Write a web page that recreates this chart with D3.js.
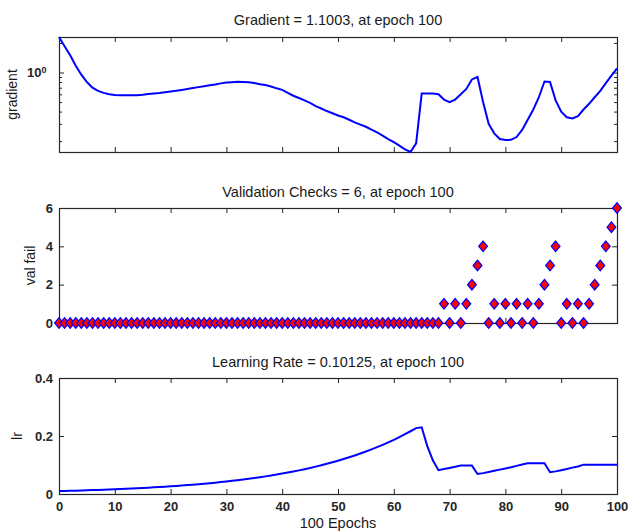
<!DOCTYPE html>
<html>
<head>
<meta charset="utf-8">
<script src="https://cdn.jsdelivr.net/npm/d3@7/dist/d3.min.js"></script>
<style>
    body { margin: 0; background: #fff; }
    svg { font-family: Arial, "Liberation Sans", sans-serif; }
    .tick text { font-size: 13px; fill: #262626; font-weight: bold; }
    .tick line { stroke: #262626; }
</style>
</head>
<body>
<svg id="chart" width="630" height="531"></svg>
<script>
'use strict';

// epochs 0..100
var epochs = d3.range(0, 101);

// gradient (log scale)
var gradientValues = [
    2.30, 1.85, 1.50, 1.17, 0.95, 0.80, 0.70, 0.65, 0.62, 0.60,
    0.59, 0.585, 0.585, 0.585, 0.588, 0.595, 0.605, 0.612, 0.62, 0.63,
    0.64, 0.652, 0.665, 0.68, 0.695, 0.71, 0.725, 0.74, 0.755, 0.775,
    0.79, 0.798, 0.803, 0.802, 0.795, 0.78, 0.76, 0.745, 0.72, 0.69,
    0.665, 0.62, 0.58, 0.55, 0.52, 0.49, 0.455, 0.43, 0.405, 0.385,
    0.365, 0.35, 0.33, 0.31, 0.295, 0.28, 0.262, 0.245, 0.228, 0.21,
    0.195, 0.18, 0.165, 0.155, 0.19, 0.61, 0.61, 0.61, 0.60, 0.53,
    0.50, 0.53, 0.60, 0.68, 0.85, 0.90, 0.50, 0.30, 0.24, 0.21,
    0.205, 0.206, 0.22, 0.26, 0.33, 0.42, 0.56, 0.81, 0.80, 0.52,
    0.40, 0.35, 0.34, 0.36, 0.42, 0.48, 0.56, 0.65, 0.78, 0.93,
    1.1003
];

// validation checks (val fail)
var valFailValues = [
    0, 0, 0, 0, 0, 0, 0, 0, 0, 0,
    0, 0, 0, 0, 0, 0, 0, 0, 0, 0,
    0, 0, 0, 0, 0, 0, 0, 0, 0, 0,
    0, 0, 0, 0, 0, 0, 0, 0, 0, 0,
    0, 0, 0, 0, 0, 0, 0, 0, 0, 0,
    0, 0, 0, 0, 0, 0, 0, 0, 0, 0,
    0, 0, 0, 0, 0, 0, 0, 0, 0, 1,
    0, 1, 0, 1, 2, 3, 4, 0, 1, 0,
    1, 0, 1, 0, 1, 0, 1, 2, 3, 4,
    0, 1, 0, 1, 0, 1, 2, 3, 4, 5,
    6
];

// learning rate
var lrValues = [
    0.0100, 0.0105, 0.0110, 0.0116, 0.0122, 0.0128, 0.0134, 0.0141, 0.0148, 0.0155,
    0.0163, 0.0171, 0.0180, 0.0189, 0.0198, 0.0208, 0.0218, 0.0229, 0.0241, 0.0253,
    0.0265, 0.0279, 0.0293, 0.0307, 0.0323, 0.0339, 0.0356, 0.0373, 0.0392, 0.0412,
    0.0432, 0.0454, 0.0476, 0.0500, 0.0525, 0.0552, 0.0579, 0.0608, 0.0639, 0.0670,
    0.0704, 0.0739, 0.0776, 0.0815, 0.0856, 0.0899, 0.0944, 0.0991, 0.1041, 0.1093,
    0.1147, 0.1205, 0.1265, 0.1328, 0.1395, 0.1464, 0.1538, 0.1615, 0.1695, 0.1780,
    0.1869, 0.1963, 0.2061, 0.2164, 0.2272, 0.2300, 0.165, 0.116, 0.082, 0.086,
    0.090, 0.094, 0.098, 0.098, 0.098, 0.069, 0.072, 0.076, 0.080, 0.084,
    0.088, 0.092, 0.097, 0.102, 0.106, 0.106, 0.106, 0.106, 0.075, 0.078,
    0.082, 0.086, 0.091, 0.095, 0.10125, 0.10125, 0.10125, 0.10125, 0.10125, 0.10125,
    0.10125
];

var xTicks = [0, 10, 20, 30, 40, 50, 60, 70, 80, 90, 100];
var gradTicks = [0.2, 0.3, 0.4, 0.5, 0.6, 0.7, 0.8, 0.9, 1, 2];
var valTicks = [0, 2, 4, 6];
var lrTicks = [0, 0.2, 0.4];

var titles = [
    'Gradient = 1.1003, at epoch 100',
    'Validation Checks = 6, at epoch 100',
    'Learning Rate = 0.10125, at epoch 100'
];
var yLabels = ['gradient', 'val fail', 'lr'];
var xLabel = '100 Epochs';

var svg = d3.select('#chart');
var left = 59, right = 617;
var textColor = '#1a1a1a';

var x = d3.scaleLinear().domain([0, 100]).range([left, right]);

var yGrad = d3.scaleLog().domain([0.155, 2.3]).range([152, 37]);
var yVal = d3.scaleLinear().domain([0, 6]).range([323, 208]);
var yLr = d3.scaleLinear().domain([0, 0.4]).range([494, 378]);

// draw box, inward ticks on all four sides
var drawFrame = function (y, yTicks, yFormat, labelX) {
    var top = y.range()[1], bottom = y.range()[0];
    var g = svg.append('g');
    var innerX = labelX ? xTicks : xTicks.slice(1, -1);

    g.append('g')
        .attr('transform', 'translate(0,' + bottom + ')')
        .call(d3.axisBottom(x).tickValues(innerX).tickSize(-5).tickSizeOuter(0)
            .tickPadding(8).tickFormat(labelX ? d3.format('d') : ''));
    g.append('g')
        .attr('transform', 'translate(0,' + top + ')')
        .call(d3.axisTop(x).tickValues(xTicks.slice(1, -1)).tickSize(-5).tickSizeOuter(0).tickFormat(''));
    g.append('g')
        .attr('class', 'y-left')
        .attr('transform', 'translate(' + left + ',0)')
        .call(d3.axisLeft(y).tickValues(yTicks).tickSize(-5).tickSizeOuter(0)
            .tickPadding(6).tickFormat(yFormat));
    g.append('g')
        .attr('class', 'y-right')
        .attr('transform', 'translate(' + right + ',0)')
        .call(d3.axisRight(y).tickValues(yTicks).tickSize(-5).tickSizeOuter(0).tickFormat(''));

    g.selectAll('.domain').remove();
    g.append('rect')
        .attr('x', left + 0.5)
        .attr('y', top + 0.5)
        .attr('width', right - left)
        .attr('height', bottom - top)
        .attr('fill', 'none')
        .attr('stroke', '#262626')
        .attr('stroke-width', 1.2);
    return g;
};

var lineOf = function (y) {
    return d3.line()
        .x(function (d) { return x(d[0]); })
        .y(function (d) { return y(d[1]); });
};

// gradient panel
var g1 = drawFrame(yGrad, gradTicks, function (d) { return d === 1 ? '10' : ''; }, false);
// minor log ticks are shorter
g1.selectAll('.y-left .tick line').filter(function (d) { return d !== 1; }).attr('x2', 3);
g1.selectAll('.y-right .tick line').filter(function (d) { return d !== 1; }).attr('x2', -3);
g1.selectAll('.y-left .tick text').filter(function (d) { return d === 1; })
    .attr('dx', '-0.5em')
    .append('tspan')
    .attr('dy', '-0.45em')
    .attr('font-size', '9px')
    .text('0');

svg.append('path')
    .datum(d3.zip(epochs, gradientValues))
    .attr('fill', 'none')
    .attr('stroke', '#0000ff')
    .attr('stroke-width', 2)
    .attr('d', lineOf(yGrad));

// validation panel
drawFrame(yVal, valTicks, d3.format('d'), false);
svg.append('g')
    .selectAll('path')
    .data(d3.zip(epochs, valFailValues))
    .enter()
    .append('path')
    .attr('transform', function (d) { return 'translate(' + x(d[0]) + ',' + yVal(d[1]) + ')'; })
    .attr('d', 'M0,-5.3L4.4,0L0,5.3L-4.4,0Z')
    .attr('fill', '#ff0000')
    .attr('stroke', '#0000ff')
    .attr('stroke-width', 1.2);

// learning rate panel
drawFrame(yLr, lrTicks, function (d) { return d === 0 ? '0' : d3.format('.1f')(d); }, true);
svg.append('path')
    .datum(d3.zip(epochs, lrValues))
    .attr('fill', 'none')
    .attr('stroke', '#0000ff')
    .attr('stroke-width', 2)
    .attr('d', lineOf(yLr));

// titles and labels
var titleY = [25, 197, 367];
titles.forEach(function (t, i) {
    svg.append('text')
        .attr('x', (left + right) / 2)
        .attr('y', titleY[i])
        .attr('text-anchor', 'middle')
        .attr('font-size', '14.5px')
        .attr('fill', textColor)
        .text(t);
});

var yLabelPos = [[17, 94.5], [35, 265.5], [22, 436]];
yLabels.forEach(function (t, i) {
    svg.append('text')
        .attr('transform', 'translate(' + yLabelPos[i][0] + ',' + yLabelPos[i][1] + ') rotate(-90)')
        .attr('text-anchor', 'middle')
        .attr('font-size', '14px')
        .attr('fill', textColor)
        .text(t);
});

svg.append('text')
    .attr('x', (left + right) / 2)
    .attr('y', 528)
    .attr('text-anchor', 'middle')
    .attr('font-size', '14.5px')
    .attr('fill', textColor)
    .text(xLabel);
</script>
</body>
</html>
